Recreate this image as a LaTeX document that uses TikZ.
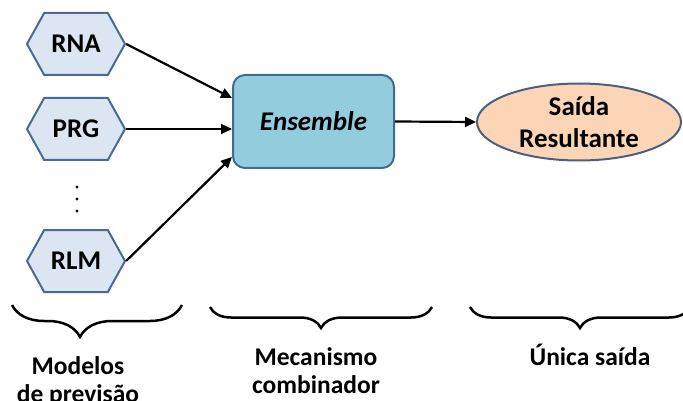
\documentclass[tikz,border=0pt]{standalone}
\usepackage{fontspec}
\setmainfont{Carlito}
\usetikzlibrary{shapes.symbols, shapes.geometric, arrows.meta, decorations.pathreplacing}

\definecolor{hexfill}{HTML}{DCE6F2}
\definecolor{hexdraw}{HTML}{4A6A96}
\definecolor{ensfill}{HTML}{93CDDD}
\definecolor{ensdraw}{HTML}{3C6E91}
\definecolor{outfill}{HTML}{FBD5B5}
\definecolor{outdraw}{HTML}{4D5F80}

\begin{document}
\begin{tikzpicture}[x=1pt, y=-1pt,
    every node/.style={font=\fontsize{27}{32}\selectfont\bfseries},
    hexbox/.style={signal, signal to=east and west, signal pointer angle=122,
      draw=hexdraw, fill=hexfill, line width=2pt, inner sep=0pt,
      minimum width=98pt, minimum height=62pt},
    ensbox/.style={rectangle, rounded corners=12pt, draw=ensdraw, fill=ensfill,
      line width=2pt, minimum width=161pt, minimum height=93pt},
    outellipse/.style={ellipse, draw=outdraw, fill=outfill, line width=2pt,
      inner sep=0pt, minimum width=204pt, minimum height=77pt, align=center},
    arr/.style={-{Triangle[length=11pt, width=10pt]}, line width=2.2pt},
    chave/.style={decorate, line width=2.5pt,
      decoration={brace, mirror, amplitude=#1}},
    rotulo/.style={align=center, font=\fontsize{25.5}{28}\selectfont\bfseries}]
  \useasboundingbox (0,0) rectangle (683,401);

  % modelos de previsao
  \node[hexbox] (rna) at (76,44) {RNA};
  \node[hexbox] (prg) at (76,129) {PRG};
  \coordinate (dots) at (77,199);
  \foreach \dy in {-12,0,12}
    \fill ([yshift=\dy pt]dots) circle (1.7pt);
  \node[hexbox] (rlm) at (76,261) {RLM};

  % mecanismo combinador
  \node[ensbox] (ens) at (313.5,121.5) {\textit{Ensemble}};

  % saida
  \node[outellipse] (out) at (579,122) {Saída\\Resultante};

  % setas
  \draw[arr] (rna.east) -- ([yshift=23.5pt]ens.west);
  \draw[arr] (prg.east) -- (prg.east -| ens.west);
  \draw[arr] (rlm.east) -- ([yshift=-35.5pt]ens.west);
  \draw[arr] (ens.east) -- (out.west);

  % chaves
  \draw[chave=32pt, decoration={aspect=0.4}] (12,305) -- (182,305);
  \draw[chave=21pt] (210,307) -- (432,307);
  \draw[chave=21pt] (470,307) -- (690,307);

  % rotulos
  \node[rotulo] (lmod) at (78,382) {Modelos\\de previsão};
  \node[rotulo] (lmec) at (316,371) {Mecanismo\\combinador};
  \node[rotulo] (lsai) at (590,355) {Única saída};
\end{tikzpicture}
\end{document}
